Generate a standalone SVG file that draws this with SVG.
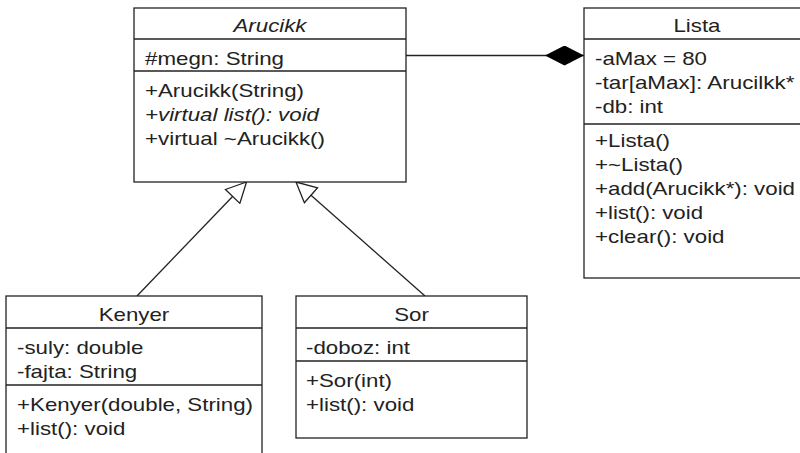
<svg xmlns="http://www.w3.org/2000/svg" width="800" height="453" viewBox="0 0 800 453">
<style>
.box{fill:#fff;stroke:#222;stroke-width:1.3}
.div{stroke:#222;stroke-width:1.3}
.t{font-family:"Liberation Sans",Arial,sans-serif;font-size:19px;fill:#222}
.h{text-anchor:middle}
.i{font-style:italic}
.conn{stroke:#222;stroke-width:1.3;fill:none}
</style>
<defs>
<marker id="gen" viewBox="-1 -1 22 22" refX="20" refY="10" markerWidth="22" markerHeight="22" markerUnits="userSpaceOnUse" orient="auto">
<path d="M0,0 L20,10 L0,20 Z" fill="#fff" stroke="#222" stroke-width="1.3"/>
</marker>
<marker id="comp" viewBox="0 0 39 20" refX="39" refY="10" markerWidth="39" markerHeight="20" markerUnits="userSpaceOnUse" orient="auto">
<path d="M0,10 L19.5,0 L39,10 L19.5,20 Z" fill="#000"/>
</marker>
</defs>
<g id="connectors">
<line class="conn" x1="406" y1="55.5" x2="584" y2="55.5" marker-end="url(#comp)"/>
<line class="conn" x1="137" y1="296" x2="246.5" y2="182" marker-end="url(#gen)"/>
<line class="conn" x1="425" y1="296" x2="296" y2="182" marker-end="url(#gen)"/>
</g>
<g id="Arucikk">
<rect class="box" x="134" y="8" width="272" height="174"/>
<line class="div" x1="134" y1="39" x2="406" y2="39"/>
<line class="div" x1="134" y1="71" x2="406" y2="71"/>
<text class="t h i" x="270" y="32" textLength="73" lengthAdjust="spacingAndGlyphs">Arucikk</text>
<text class="t" x="145" y="65" textLength="139" lengthAdjust="spacingAndGlyphs">#megn: String</text>
<text class="t" x="145" y="97" textLength="159" lengthAdjust="spacingAndGlyphs">+Arucikk(String)</text>
<text class="t i" x="145" y="121" textLength="174" lengthAdjust="spacingAndGlyphs">+virtual list(): void</text>
<text class="t" x="145" y="145" textLength="180" lengthAdjust="spacingAndGlyphs">+virtual ~Arucikk()</text>
</g>
<g id="Lista">
<rect class="box" x="584" y="8" width="226" height="270"/>
<line class="div" x1="584" y1="39" x2="810" y2="39"/>
<line class="div" x1="584" y1="124" x2="810" y2="124"/>
<text class="t h" x="697" y="32" textLength="47" lengthAdjust="spacingAndGlyphs">Lista</text>
<text class="t" x="595" y="65" textLength="112" lengthAdjust="spacingAndGlyphs">-aMax = 80</text>
<text class="t" x="595" y="89" textLength="199.5" lengthAdjust="spacingAndGlyphs">-tar[aMax]: Arucilkk*</text>
<text class="t" x="595" y="113" textLength="68" lengthAdjust="spacingAndGlyphs">-db: int</text>
<text class="t" x="595" y="147" textLength="75" lengthAdjust="spacingAndGlyphs">+Lista()</text>
<text class="t" x="595" y="171" textLength="88" lengthAdjust="spacingAndGlyphs">+~Lista()</text>
<text class="t" x="595" y="195" textLength="200" lengthAdjust="spacingAndGlyphs">+add(Arucikk*): void</text>
<text class="t" x="595" y="219" textLength="108" lengthAdjust="spacingAndGlyphs">+list(): void</text>
<text class="t" x="595" y="243" textLength="129.5" lengthAdjust="spacingAndGlyphs">+clear(): void</text>
</g>
<g id="Kenyer">
<rect class="box" x="6" y="296" width="256" height="170"/>
<line class="div" x1="6" y1="328" x2="262" y2="328"/>
<line class="div" x1="6" y1="385" x2="262" y2="385"/>
<text class="t h" x="134" y="321" textLength="70.6" lengthAdjust="spacingAndGlyphs">Kenyer</text>
<text class="t" x="17" y="354" textLength="126.4" lengthAdjust="spacingAndGlyphs">-suly: double</text>
<text class="t" x="17" y="378" textLength="120.2" lengthAdjust="spacingAndGlyphs">-fajta: String</text>
<text class="t" x="17" y="411" textLength="236" lengthAdjust="spacingAndGlyphs">+Kenyer(double, String)</text>
<text class="t" x="17" y="435" textLength="108.4" lengthAdjust="spacingAndGlyphs">+list(): void</text>
</g>
<g id="Sor">
<rect class="box" x="296" y="296" width="231" height="142"/>
<line class="div" x1="296" y1="328" x2="527" y2="328"/>
<line class="div" x1="296" y1="361" x2="527" y2="361"/>
<text class="t h" x="411.5" y="321" textLength="34.7" lengthAdjust="spacingAndGlyphs">Sor</text>
<text class="t" x="306" y="354" textLength="104" lengthAdjust="spacingAndGlyphs">-doboz: int</text>
<text class="t" x="306" y="387" textLength="86" lengthAdjust="spacingAndGlyphs">+Sor(int)</text>
<text class="t" x="306" y="411" textLength="108.4" lengthAdjust="spacingAndGlyphs">+list(): void</text>
</g>
</svg>
